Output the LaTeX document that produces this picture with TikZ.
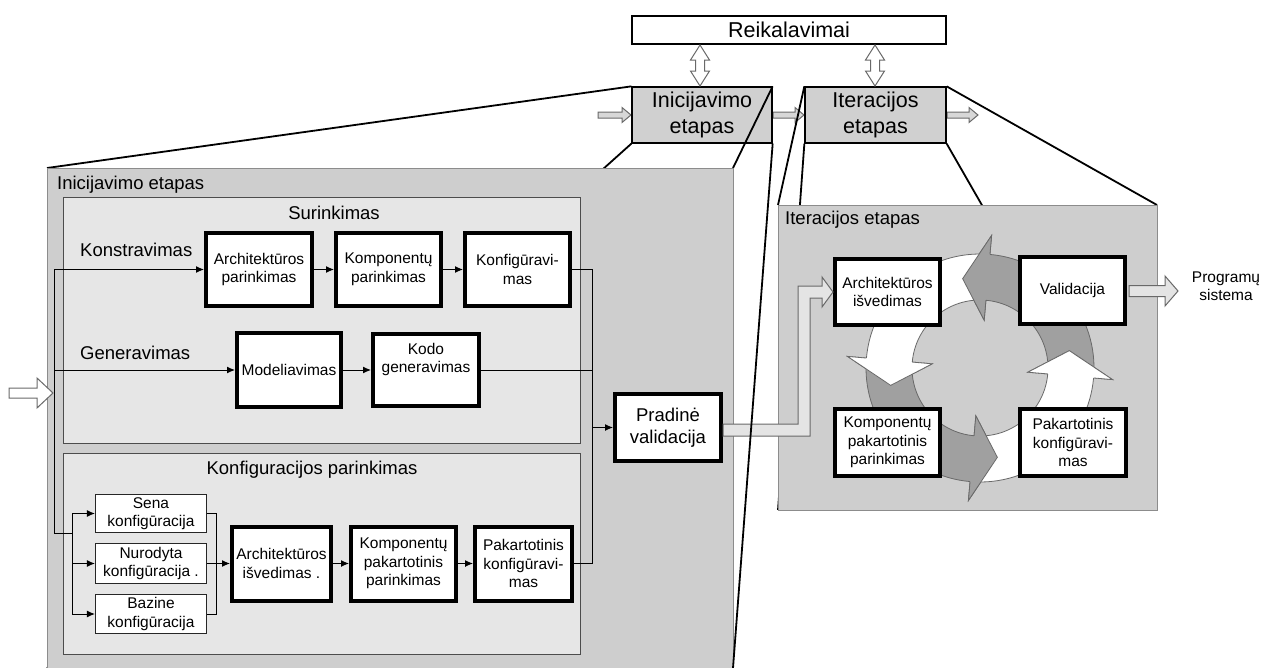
\documentclass[tikz,border=0pt]{standalone}
\usepackage{fontspec}
\setmainfont{Liberation Sans}
\usetikzlibrary{arrows.meta,calc}

\definecolor{panelgrey}{RGB}{206,206,206}
\definecolor{innergrey}{RGB}{230,230,230}
\definecolor{topgrey}{RGB}{208,208,208}
\definecolor{ringdark}{RGB}{160,160,160}
\definecolor{arrowedge}{RGB}{105,105,105}
\definecolor{framegrey}{RGB}{140,140,140}
\definecolor{shaftgrey}{RGB}{228,228,228}
\definecolor{smallgrey}{RGB}{215,215,215}

% hollow arrow pointing right: style, x1, x2, y, shaft half width, head half width, head length
\newcommand{\rightshape}[7]{%
  \filldraw[#1] (#2,{#4-#5}) -- ({#3-#7},{#4-#5}) -- ({#3-#7},{#4-#6}) -- (#3,#4)
    -- ({#3-#7},{#4+#6}) -- ({#3-#7},{#4+#5}) -- (#2,{#4+#5}) -- cycle;}
% hollow double arrow, vertical: style, x, y1, y2, shaft half width, head half width, head length
\newcommand{\updownshape}[7]{%
  \filldraw[#1] ({#2-#5},{#3+#7}) -- ({#2-#6},{#3+#7}) -- (#2,#3) -- ({#2+#6},{#3+#7})
    -- ({#2+#5},{#3+#7}) -- ({#2+#5},{#4-#7}) -- ({#2+#6},{#4-#7}) -- (#2,#4)
    -- ({#2-#6},{#4-#7}) -- ({#2-#5},{#4-#7}) -- cycle;}

\newcommand{\boxtext}{\fontsize{15.5}{18.5}\selectfont}
\newcommand{\labeltext}{\fontsize{18.5}{22}\selectfont}
\newcommand{\toptext}{\fontsize{21.5}{25.5}\selectfont}

\tikzset{
  thickbox/.style={draw=black, line width=4pt, fill=white, align=center,
    inner sep=1pt, font=\boxtext},
  thinbox/.style={draw=black!85, line width=1.2pt, fill=white, align=center,
    inner sep=1pt, font=\boxtext},
  topbox/.style={draw=black, line width=1.3pt, align=center, inner sep=0pt,
    font=\toptext},
  wire/.style={draw=black, line width=1pt},
  flow/.style={draw=black, line width=1pt, -{Latex[length=8pt,width=7pt]}},
  proj/.style={draw=black, line width=1.8pt},
  hollow/.style={fill=white, draw=arrowedge, line width=1pt},
  hollowgrey/.style={fill=smallgrey, draw=arrowedge, line width=1pt},
  hollowlight/.style={fill=shaftgrey, draw=arrowedge, line width=1pt},
  panel/.style={fill=panelgrey, draw=framegrey, line width=1pt},
  subpanel/.style={fill=innergrey, draw=black!70, line width=1pt},
  ringedge/.style={draw=arrowedge, line width=0.8pt},
}

\begin{document}
\begin{tikzpicture}[x=1pt,y=-1pt]
\useasboundingbox (0,0) rectangle (1261,667);
\fill[white] (0,0) rectangle (1261,667);

% phase flow along the top
\rightshape{hollowgrey}{598}{631}{115}{3}{7.5}{9}
\rightshape{hollowgrey}{773}{804}{115}{3}{7.5}{9}
\rightshape{hollowgrey}{947}{978}{115}{3}{7.5}{9}

\node[topbox, fill=white, minimum width=314, minimum height=28] (req) at (789,30) {Reikalavimai};
\node[topbox, fill=topgrey, minimum width=140, minimum height=56] (ini) at (702,115) {Inicijavimo\\etapas};
\node[topbox, fill=topgrey, minimum width=141, minimum height=56] (itr) at (875.5,115) {Iteracijos\\etapas};

\updownshape{hollow}{700}{45}{86}{4.5}{9.5}{15}
\updownshape{hollow}{875}{45}{86}{4.5}{9.5}{15}

% panel corners
\coordinate (lpTL) at (47,168);
\coordinate (lpTR) at (733,168);
\coordinate (lpBL) at (47,668);
\coordinate (lpBR) at (733,668);
\coordinate (rpTL) at (778,205);
\coordinate (rpTR) at (1157,205);
\coordinate (rpBL) at (778,510);
\coordinate (rpBR) at (1157,510);

% zoom lines from the phase boxes to their detail panels
\draw[proj] (ini.north west) -- (lpTL);
\draw[proj] (ini.south west) -- (lpBL);
\draw[proj] (ini.north east) -- (lpTR);
\draw[proj] (itr.north west) -- (rpTL);
\draw[proj] (itr.south west) -- (rpBL);
\draw[proj] (itr.north east) -- (rpTR);
\draw[proj] (itr.south east) -- (rpBR);

% ---------- initial phase panel ----------
\filldraw[panel] (lpTL) rectangle (733,672);
\node[anchor=west, font=\labeltext, inner sep=0pt] (iniLabel) at (57,185) {Inicijavimo etapas};

\filldraw[subpanel] (63,197) rectangle (580,443);
\filldraw[subpanel] (63,453) rectangle (580,654);
\node[font=\labeltext, inner sep=0pt] (surLabel) at (334,213) {Surinkimas};
\node[font=\labeltext, inner sep=0pt] (kpLabel) at (312,470) {Konfiguracijos parinkimas};
\node[anchor=west, font=\labeltext, inner sep=0pt] (konLabel) at (80,250) {Konstravimas};
\node[anchor=west, font=\labeltext, inner sep=0pt] (genLabel) at (80,353) {Generavimas};

\node[thickbox, minimum width=106, minimum height=73] (arP) at (259,269.5) {Architektūros\\parinkimas};
\node[thickbox, minimum width=105, minimum height=73] (koP) at (388.5,269.5) {Komponentų\\parinkimas};
\node[thickbox, minimum width=105, minimum height=73] (kfg) at (517.5,269.5) {Konfigūravi-\\mas};
\node[thickbox, minimum width=104, minimum height=74] (mod) at (289,370) {Modeliavimas};
\node[thickbox, minimum width=106, minimum height=72] (kod) at (426,370) {Kodo\\generavimas\\[6pt]};

\node[thinbox, minimum width=111, minimum height=38] (sena) at (151,513.5) {Sena\\konfigūracija};
\node[thinbox, minimum width=111, minimum height=40] (nur) at (151,563.5) {Nurodyta\\konfigūracija .};
\node[thinbox, minimum width=111, minimum height=39] (baz) at (151,614) {Bazine\\konfigūracija};

\node[thickbox, minimum width=99, minimum height=74] (aiL) at (281.5,563.5) {Architektūros\\išvedimas .};
\node[thickbox, minimum width=105, minimum height=74] (kpp) at (403.5,563.5) {Komponentų\\pakartotinis\\parinkimas};
\node[thickbox, minimum width=97, minimum height=74] (pkL) at (523.5,563.5) {Pakartotinis\\konfigūravi-\\mas};

\node[thickbox, minimum width=106, minimum height=67, font=\labeltext] (pv) at (668,427.5) {Pradinė\\validacija};

% input arrow and distribution bus
\rightshape{hollow}{9}{53}{393}{5}{15}{16}
\coordinate (busTop) at (54,269.5);
\coordinate (busMid) at (54,370);
\coordinate (busBot) at (54,533);
\coordinate (fanX) at (72,533);
\draw[wire] (busTop) -- (busBot) -- (fanX);
\draw[flow] (busTop) -- (arP.west);
\draw[flow] (busMid) -- (mod.west);
\draw[wire] (sena.west -| fanX) -- (baz.west -| fanX);
\draw[flow] (sena.west -| fanX) -- (sena.west);
\draw[flow] (nur.west -| fanX) -- (nur.west);
\draw[flow] (baz.west -| fanX) -- (baz.west);

% chains
\draw[flow] (arP.east) -- (koP.west);
\draw[flow] (koP.east) -- (kfg.west);
\draw[flow] (mod.east) -- (kod.west);
\coordinate (mergeX) at (216,563.5);
\draw[wire] (sena.east) -- (sena.east -| mergeX) -- (baz.east -| mergeX) -- (baz.east);
\draw[flow] (nur.east) -- (aiL.west);
\draw[flow] (aiL.east) -- (kpp.west);
\draw[flow] (kpp.east) -- (pkL.west);

% merge into the initial validation
\coordinate (joinX) at (592,427.5);
\draw[wire] (kfg.east) -| (joinX);
\draw[wire] (pkL.east) -| (joinX);
\draw[wire] (kod.east) -- (kod.east -| joinX);
\draw[flow] (joinX) -- (pv.west);

% ---------- iteration phase panel ----------
\filldraw[panel] (rpTL) rectangle (rpBR);
\node[anchor=west, font=\labeltext, inner sep=0pt] (itrLabel) at (785,220) {Iteracijos etapas};

\coordinate (C) at (980,368);
% cycle arrows: bodies first
\foreach \h/\col in {85/ringdark, 175/white, 265/ringdark, 355/white} {
  \pgfmathsetmacro\ts{-(\h-87)}
  \pgfmathsetmacro\th{-\h}
  \pgfmathsetmacro\tt{-(\h+16)}
  \filldraw[ringedge, fill=\col]
    ([shift={(\ts:114)}]C) arc[start angle=\ts, end angle=\th, radius=114]
    -- ([shift={(\th:133)}]C) -- ([shift={(\tt:91)}]C) -- ([shift={(\th:48)}]C)
    -- ([shift={(\th:68)}]C) arc[start angle=\th, end angle=\ts, radius=68] -- cycle;
}
% then every head on top of the following tail
\foreach \h/\col in {85/ringdark, 175/white, 265/ringdark, 355/white} {
  \pgfmathsetmacro\th{-\h}
  \pgfmathsetmacro\tt{-(\h+16)}
  \fill[\col] ([shift={(\th:133)}]C) -- ([shift={(\tt:91)}]C) -- ([shift={(\th:48)}]C) -- cycle;
  \draw[ringedge] ([shift={(\th:114)}]C) -- ([shift={(\th:133)}]C) -- ([shift={(\tt:91)}]C)
    -- ([shift={(\th:48)}]C) -- ([shift={(\th:68)}]C);
}

\node[thickbox, minimum width=105, minimum height=66] (aiR) at (887.5,292) {Architektūros\\išvedimas};
\node[thickbox, minimum width=105, minimum height=67] (val) at (1072.5,290.5) {Validacija};
\node[thickbox, minimum width=105, minimum height=67] (kppR) at (887.5,442.5) {Komponentų\\pakartotinis\\parinkimas};
\node[thickbox, minimum width=106, minimum height=67] (pkR) at (1073,442.5) {Pakartotinis\\konfigūravi-\\mas};

% hand-over from the initial validation to the iteration
\filldraw[hollowlight] (pv.east |- 0,424) -- (798,424) -- (798,286) -- (822,286) -- (822,277)
  -- (aiR.west) -- (822,307) -- (822,298) -- (810,298) -- (810,436) -- (pv.east |- 0,436) -- cycle;

% result
\rightshape{hollowlight}{1129}{1178}{291}{5.5}{15}{13}
\node[align=center, font=\boxtext, inner sep=0pt] (out) at (1226,286) {Programų\\sistema};

\draw[proj] (ini.south east) -- (lpBR);
\end{tikzpicture}
\end{document}
